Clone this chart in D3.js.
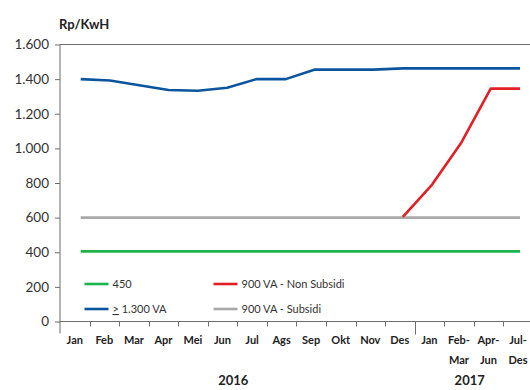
<!DOCTYPE html>
<html>
<head>
<meta charset="utf-8">
<script src="https://cdn.jsdelivr.net/npm/d3@7"></script>
<style>
  html, body { margin: 0; padding: 0; background: #fff; }
  svg { display: block; font-family: Lato, "Open Sans", sans-serif; }
</style>
</head>
<body>
<svg id="chart" width="530" height="390"></svg>
<script>
// Tarif listrik per golongan daya (Rp/kWh), 2016 - 2017
const categories = ["Jan", "Feb", "Mar", "Apr", "Mei", "Jun", "Jul", "Ags", "Sep", "Okt", "Nov", "Des",
                    "Jan", "Feb-\nMar", "Apr-\nJun", "Jul-\nDes"];
const years = [{ label: "2016", from: 0, to: 12 }, { label: "2017", from: 12, to: 16 }];

const va450        = [405, 405, 405, 405, 405, 405, 405, 405, 405, 405, 405, 405, 405, 405, 405, 405];
const va1300       = [1400, 1392, 1365, 1337, 1333, 1350, 1400, 1400, 1455, 1455, 1455, 1462, 1462, 1462, 1462, 1462];
const va900NonSub  = [null, null, null, null, null, null, null, null, null, null, null, 605, 791, 1034, 1345, 1345];
const va900Sub     = [600, 600, 600, 600, 600, 600, 600, 600, 600, 600, 600, 600, 600, 600, 600, 600];

const yTicks = [0, 200, 400, 600, 800, 1000, 1200, 1400, 1600];

const series = [
  { name: "450",                  values: va450,       color: "#1db34f" },
  { name: "900 VA - Non Subsidi", values: va900NonSub, color: "#e21f26" },
  { name: "1.300 VA",             values: va1300,      color: "#0b559f", ge: true },
  { name: "900 VA - Subsidi",     values: va900Sub,    color: "#a9a9a9" }
];

const svg = d3.select("#chart");
const plotLeft = 60, plotTop = 44.5, plotBottom = 321.5, bandW = 29.55;
const idx = d3.range(categories.length);

const y = d3.scaleLinear().domain([0, 1600]).range([plotBottom, plotTop]);
const xBand = d3.scaleBand().domain(idx).range([plotLeft, plotLeft + 16 * bandW]);
const xPt = d3.scalePoint().domain(idx).range([80.7, 520]);

const axisColor = "#6d6d6d";

// Top frame line of the plot area
svg.append("line")
  .attr("x1", plotLeft).attr("x2", 530).attr("y1", y(1600)).attr("y2", y(1600))
  .attr("stroke", axisColor).attr("stroke-width", 1);

// Y axis
const yAxis = svg.append("g")
  .attr("transform", `translate(${plotLeft},0)`)
  .call(d3.axisLeft(y).tickValues(yTicks).tickSize(5).tickPadding(6)
    .tickFormat(d => d3.format(",")(d).replace(/,/g, ".")));
yAxis.select(".domain").remove();
yAxis.selectAll(".tick line").attr("stroke", axisColor);
yAxis.selectAll(".tick text").attr("font-size", 13.5).attr("fill", "#333")
  .attr("font-family", "Lato, sans-serif");
svg.append("line")
  .attr("x1", plotLeft).attr("x2", plotLeft).attr("y1", plotTop).attr("y2", plotBottom + 12)
  .attr("stroke", axisColor).attr("stroke-width", 1);

// X axis line and category ticks
svg.append("line")
  .attr("x1", plotLeft).attr("x2", 530).attr("y1", plotBottom).attr("y2", plotBottom)
  .attr("stroke", axisColor).attr("stroke-width", 1);
d3.range(1, 16).forEach(k => {
  const xx = Math.round(xBand(k)) + 0.5;
  svg.append("line")
    .attr("x1", xx).attr("x2", xx)
    .attr("y1", plotBottom).attr("y2", k === 12 ? plotBottom + 13 : plotBottom + 5)
    .attr("stroke", axisColor).attr("stroke-width", 1);
});

// Category labels
const lab = svg.append("g").attr("font-size", 11).attr("font-weight", "bold").attr("fill", "#222")
  .attr("text-anchor", "middle");
idx.forEach(i => {
  const cx = xBand(i) + xBand.bandwidth() / 2;
  const t = lab.append("text").attr("x", cx).attr("y", 344);
  categories[i].split("\n").forEach((ln, j) => {
    t.append("tspan").attr("x", cx).attr("dy", j === 0 ? 0 : 20).text(ln);
  });
});

// Year labels
years.forEach(yr => {
  const x0 = xBand(yr.from);
  const x1 = yr.to < 16 ? xBand(yr.to) : plotLeft + 16 * bandW;
  svg.append("text")
    .attr("x", (x0 + x1) / 2 - 4)
    .attr("y", 385)
    .attr("text-anchor", "middle").attr("font-size", 13).attr("font-weight", "bold").attr("fill", "#222")
    .text(yr.label);
});

// Unit label
svg.append("text")
  .attr("x", 59).attr("y", 29)
  .attr("font-size", 13).attr("font-weight", "bold").attr("fill", "#222")
  .text("Rp/KwH");

// Series lines
const line = d3.line()
  .defined(d => d != null)
  .x((d, i) => xPt(i))
  .y(d => y(d));

const drawOrder = [series[3], series[0], series[1], series[2]];
drawOrder.forEach(s => {
  svg.append("path")
    .datum(s.values)
    .attr("fill", "none")
    .attr("stroke", s.color)
    .attr("stroke-width", 2.6)
    .attr("stroke-linejoin", "round")
    .attr("d", line);
});

// Legend
const legendPos = [
  { x: 84.5, y: 284 }, { x: 213.5, y: 284 },
  { x: 84.5, y: 309 }, { x: 213.5, y: 309 }
];
series.forEach((s, i) => {
  const p = legendPos[i];
  svg.append("line")
    .attr("x1", p.x).attr("x2", p.x + 24).attr("y1", p.y).attr("y2", p.y)
    .attr("stroke", s.color).attr("stroke-width", 2.6);
  const t = svg.append("text")
    .attr("x", p.x + 28).attr("y", p.y + 4)
    .attr("font-size", 11).attr("fill", "#333");
  if (s.ge) {
    t.append("tspan").attr("text-decoration", "underline").text(">");
    t.append("tspan").text(" " + s.name);
  } else {
    t.text(s.name);
  }
});
</script>
</body>
</html>
